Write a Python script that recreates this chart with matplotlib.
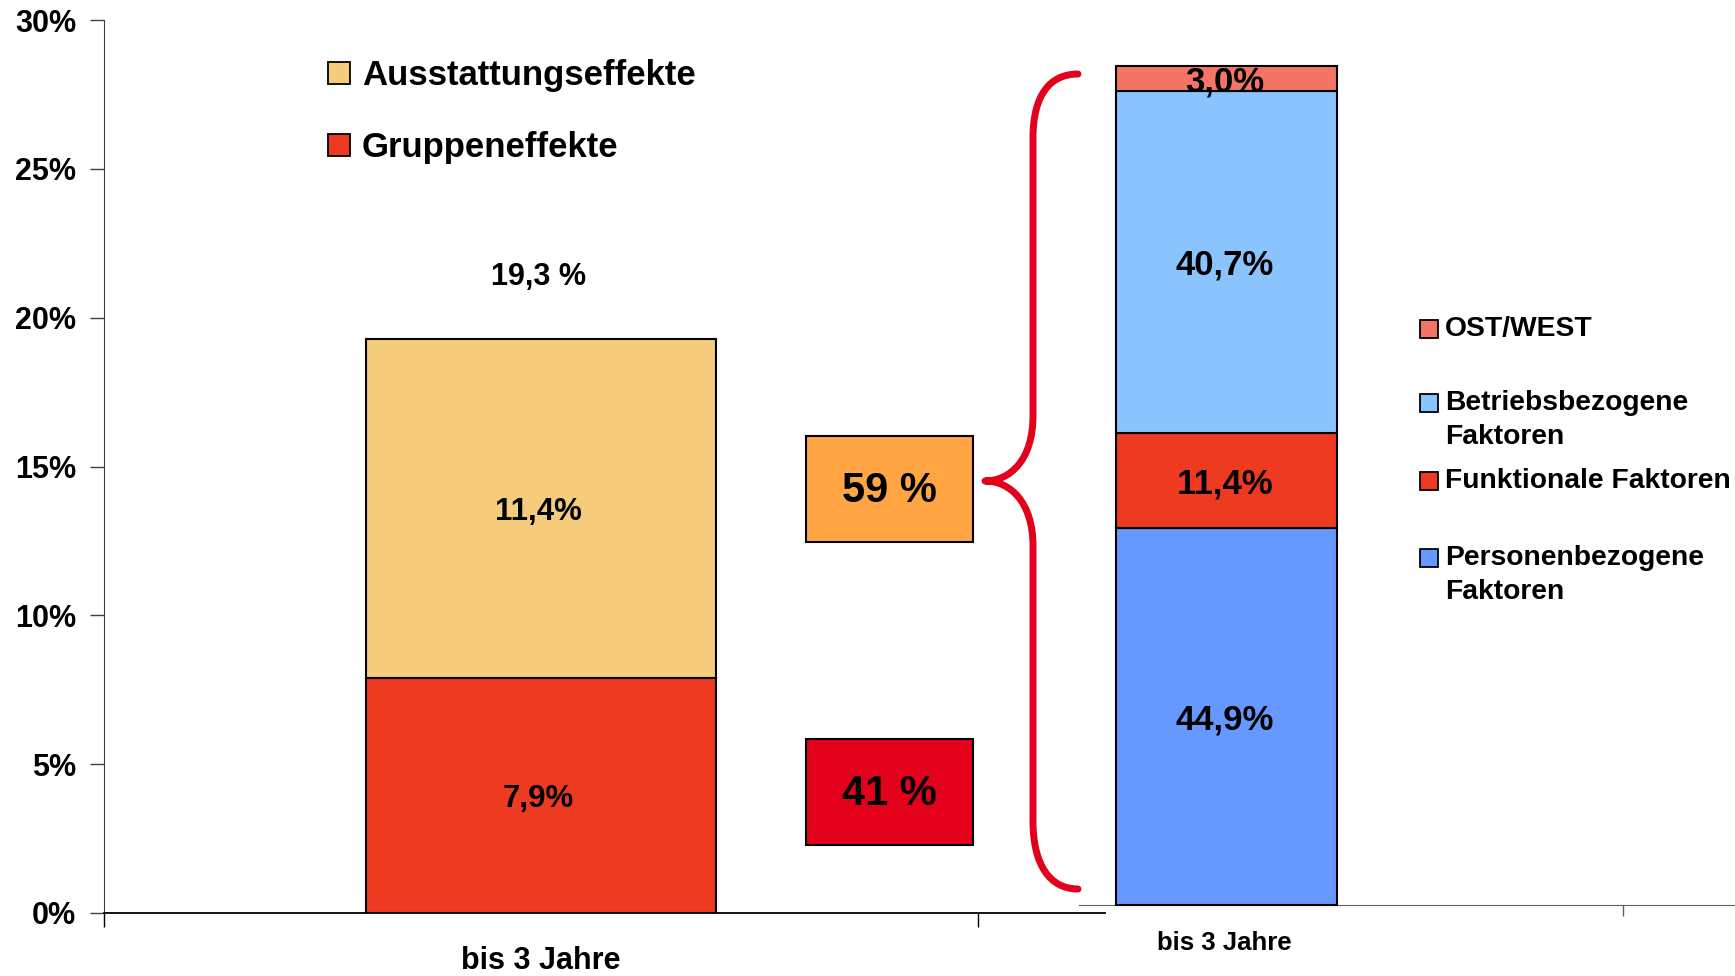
import matplotlib
matplotlib.use('Agg')
import matplotlib.pyplot as plt
from matplotlib.patches import Rectangle, PathPatch
from matplotlib.path import Path

plt.rcParams['font.family'] = ['Liberation Sans', 'DejaVu Sans']
plt.rcParams['font.weight'] = 'bold'

# Daten
kategorie = 'bis 3 Jahre'
links_labels = ['Gruppeneffekte', 'Ausstattungseffekte']
links_werte = [7.9, 11.4]
links_farben = ['#EF3A22', '#F5CB7C']
anteile = [59, 41]  # Ausstattungseffekte, Gruppeneffekte
anteile_farben = ['#FFA544', '#E2001A']

rechts_labels = ['Personenbezogene\nFaktoren', 'Funktionale Faktoren',
                 'Betriebsbezogene\nFaktoren', 'OST/WEST']
rechts_werte = [44.9, 11.4, 40.7, 3.0]
rechts_farben = ['#6699FF', '#EF3A22', '#89C4FF', '#F47566']

y_ticks = [0, 5, 10, 15, 20, 25, 30]


def pct(v, sep=''):
    return f'{v:.1f}{sep}%'.replace('.', ',')


W, H = 1735, 976
fig = plt.figure(figsize=(W / 100, H / 100), dpi=100)


# Pixel -> Figurkoordinaten
def fx(x):
    return x / W


def fy(y):
    return 1 - y / H


# Linkes Diagramm
ax = fig.add_axes([fx(104), fy(913), fx(1105) - fx(104), fy(20) - fy(913)])
ax.patch.set_alpha(0)
unten = 0
for wert, farbe in zip(links_werte, links_farben):
    ax.bar(0, wert, bottom=unten, width=0.4, color=farbe,
           edgecolor='black', linewidth=1.5, zorder=3)
    ax.text(-0.003, unten + wert / 2, pct(wert), ha='center', va='center_baseline',
            fontsize=22.5, fontweight='bold', zorder=4)
    unten += wert
ax.text(-0.003, unten + 2.2, pct(unten, ' '), ha='center', va='center_baseline',
        fontsize=22, fontweight='bold')

ax.set_ylim(0, 30)
ax.set_xlim(-0.5, 0.645)
ax.set_yticks(y_ticks)
ax.set_yticklabels([f'{v}%' for v in y_ticks], fontsize=22, fontweight='bold')
ax.tick_params(axis='y', length=10, width=1, pad=10, color='#404040')
ax.set_xticks([-0.5, 0.5])
ax.set_xticklabels(['', ''])
ax.set_xticks([0], minor=True)
ax.set_xticklabels([kategorie], minor=True, fontsize=22, fontweight='bold')
ax.tick_params(axis='x', which='major', length=10, width=1)
ax.tick_params(axis='x', which='minor', length=0, pad=24)
ax.spines['top'].set_visible(False)
ax.spines['right'].set_visible(False)
ax.spines['left'].set_color('#404040')
ax.spines['bottom'].set_linewidth(1.3)

# Rechtes Diagramm
ax2 = fig.add_axes([fx(1079), fy(905), fx(1735) - fx(1079), fy(66) - fy(905)])
ax2.patch.set_alpha(0)
unten = 0
for wert, farbe in zip(rechts_werte, rechts_farben):
    ax2.bar(0.002, wert, bottom=unten, width=0.278, color=farbe,
            edgecolor='black', linewidth=1.5, zorder=3, clip_on=False)
    ax2.text(0, unten + wert / 2, pct(wert), ha='center', va='center_baseline',
             fontsize=25, fontweight='bold', zorder=4)
    unten += wert
ax2.set_ylim(0, 100)
ax2.set_xlim(-0.183, 0.641)
ax2.set_yticks([])
ax2.set_xticks([0.5])
ax2.set_xticklabels([''])
ax2.set_xticks([0], minor=True)
ax2.set_xticklabels([kategorie], minor=True, fontsize=18.5, fontweight='bold')
ax2.tick_params(axis='x', which='major', length=8, width=1, color='#606060')
ax2.tick_params(axis='x', which='minor', length=0, pad=19)
for s in ['top', 'right', 'left']:
    ax2.spines[s].set_visible(False)
ax2.spines['bottom'].set_color('#606060')

# Legende links
for i, (lab, farbe) in enumerate(zip(links_labels[::-1], links_farben[::-1])):
    yc = 73 + i * 72
    fig.patches.append(Rectangle((fx(328), fy(yc + 11)), fx(22), 22 / H,
                                 facecolor=farbe, edgecolor='black', lw=1.3,
                                 transform=fig.transFigure))
    fig.text(fx(362), fy(yc + 3), lab, ha='left', va='center', fontsize=25,
             fontweight='bold')

# Legende rechts
leg_y = [329, 403, 481, 558]
for yc, lab, farbe in zip(leg_y, rechts_labels[::-1], rechts_farben[::-1]):
    fig.patches.append(Rectangle((fx(1420), fy(yc + 9)), fx(18), 18 / H,
                                 facecolor=farbe, edgecolor='black', lw=1.3,
                                 transform=fig.transFigure))
    for j, zeile in enumerate(lab.split('\n')):
        fig.text(fx(1445), fy(yc + j * 34), zeile, ha='left', va='center',
                 fontsize=20.3, fontweight='bold')

# Anteilskaesten
for (y0, y1), a, farbe in zip([(436, 542), (739, 845)], anteile, anteile_farben):
    fig.patches.append(Rectangle((fx(806), fy(y1)), fx(973) - fx(806),
                                 (y1 - y0) / H, facecolor=farbe,
                                 edgecolor='black', lw=1.5,
                                 transform=fig.transFigure))
    fig.text(fx(889.5), fy((y0 + y1) / 2 + 2), f'{a} %', ha='center', va='center',
             fontsize=30, fontweight='bold')

# Geschweifte Klammer
pts = [(1078, 74), (1050, 74), (1033, 95), (1033, 138),
       (1033, 416),
       (1033, 460), (1010, 481), (985, 481),
       (1010, 481), (1033, 502), (1033, 546),
       (1033, 821),
       (1033, 865), (1050, 889), (1078, 889)]
codes = [Path.MOVETO, Path.CURVE4, Path.CURVE4, Path.CURVE4,
         Path.LINETO,
         Path.CURVE4, Path.CURVE4, Path.CURVE4,
         Path.CURVE4, Path.CURVE4, Path.CURVE4,
         Path.LINETO,
         Path.CURVE4, Path.CURVE4, Path.CURVE4]
klammer = Path([(fx(x), fy(y)) for x, y in pts], codes)
fig.patches.append(PathPatch(klammer, facecolor='none', edgecolor='#E2001A',
                             lw=5, capstyle='round', joinstyle='round',
                             transform=fig.transFigure))

fig.savefig('out.png', dpi=100)
